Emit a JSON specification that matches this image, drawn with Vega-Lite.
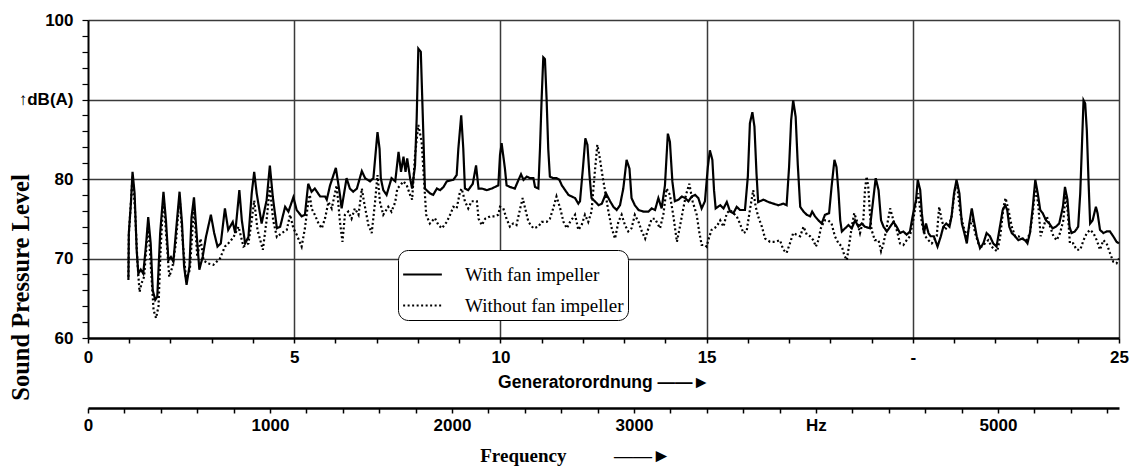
{
"$schema": "https://vega.github.io/schema/vega-lite/v6.json",
"width": 1031, "height": 318,
"autosize": {"type": "none"},
"padding": {"left": 88, "top": 20, "right": 14, "bottom": 128},
"background": "white",
"config": {"view": {"stroke": null}},
"datasets": {
"spec": [
{"g":0.98,"db":67.3,"s":"With fan impeller"},{"g":0.99,"db":73.2,"s":"With fan impeller"},{"g":1.04,"db":76.9,"s":"With fan impeller"},{"g":1.08,"db":80.9,"s":"With fan impeller"},{"g":1.13,"db":78.2,"s":"With fan impeller"},{"g":1.18,"db":71.1,"s":"With fan impeller"},{"g":1.22,"db":68.1,"s":"With fan impeller"},{"g":1.28,"db":68.6,"s":"With fan impeller"},{"g":1.34,"db":68.1,"s":"With fan impeller"},{"g":1.41,"db":71.9,"s":"With fan impeller"},{"g":1.46,"db":75.2,"s":"With fan impeller"},{"g":1.52,"db":71.9,"s":"With fan impeller"},{"g":1.57,"db":66.0,"s":"With fan impeller"},{"g":1.63,"db":64.8,"s":"With fan impeller"},{"g":1.68,"db":65.2,"s":"With fan impeller"},{"g":1.75,"db":73.2,"s":"With fan impeller"},{"g":1.83,"db":78.4,"s":"With fan impeller"},{"g":1.89,"db":74.8,"s":"With fan impeller"},{"g":1.95,"db":69.8,"s":"With fan impeller"},{"g":2.01,"db":70.2,"s":"With fan impeller"},{"g":2.07,"db":69.6,"s":"With fan impeller"},{"g":2.13,"db":73.2,"s":"With fan impeller"},{"g":2.22,"db":78.4,"s":"With fan impeller"},{"g":2.28,"db":74.4,"s":"With fan impeller"},{"g":2.33,"db":69.0,"s":"With fan impeller"},{"g":2.39,"db":66.7,"s":"With fan impeller"},{"g":2.46,"db":69.0,"s":"With fan impeller"},{"g":2.51,"db":75.2,"s":"With fan impeller"},{"g":2.57,"db":77.7,"s":"With fan impeller"},{"g":2.64,"db":72.7,"s":"With fan impeller"},{"g":2.70,"db":68.6,"s":"With fan impeller"},{"g":2.78,"db":70.2,"s":"With fan impeller"},{"g":2.86,"db":72.7,"s":"With fan impeller"},{"g":2.98,"db":75.5,"s":"With fan impeller"},{"g":3.06,"db":73.2,"s":"With fan impeller"},{"g":3.14,"db":71.5,"s":"With fan impeller"},{"g":3.22,"db":71.9,"s":"With fan impeller"},{"g":3.32,"db":76.3,"s":"With fan impeller"},{"g":3.40,"db":73.6,"s":"With fan impeller"},{"g":3.51,"db":74.6,"s":"With fan impeller"},{"g":3.57,"db":73.2,"s":"With fan impeller"},{"g":3.67,"db":78.6,"s":"With fan impeller"},{"g":3.73,"db":74.8,"s":"With fan impeller"},{"g":3.81,"db":71.9,"s":"With fan impeller"},{"g":3.89,"db":72.7,"s":"With fan impeller"},{"g":3.97,"db":78.2,"s":"With fan impeller"},{"g":4.03,"db":80.9,"s":"With fan impeller"},{"g":4.09,"db":78.2,"s":"With fan impeller"},{"g":4.21,"db":74.4,"s":"With fan impeller"},{"g":4.33,"db":77.3,"s":"With fan impeller"},{"g":4.41,"db":81.7,"s":"With fan impeller"},{"g":4.48,"db":77.8,"s":"With fan impeller"},{"g":4.58,"db":73.8,"s":"With fan impeller"},{"g":4.66,"db":74.0,"s":"With fan impeller"},{"g":4.78,"db":76.5,"s":"With fan impeller"},{"g":4.86,"db":75.9,"s":"With fan impeller"},{"g":4.98,"db":77.7,"s":"With fan impeller"},{"g":5.06,"db":76.1,"s":"With fan impeller"},{"g":5.18,"db":75.3,"s":"With fan impeller"},{"g":5.26,"db":75.5,"s":"With fan impeller"},{"g":5.34,"db":79.4,"s":"With fan impeller"},{"g":5.42,"db":78.4,"s":"With fan impeller"},{"g":5.50,"db":78.8,"s":"With fan impeller"},{"g":5.63,"db":77.8,"s":"With fan impeller"},{"g":5.75,"db":77.8,"s":"With fan impeller"},{"g":5.79,"db":77.4,"s":"With fan impeller"},{"g":5.87,"db":79.2,"s":"With fan impeller"},{"g":6.01,"db":81.4,"s":"With fan impeller"},{"g":6.11,"db":78.0,"s":"With fan impeller"},{"g":6.15,"db":76.3,"s":"With fan impeller"},{"g":6.27,"db":80.1,"s":"With fan impeller"},{"g":6.35,"db":78.8,"s":"With fan impeller"},{"g":6.43,"db":78.4,"s":"With fan impeller"},{"g":6.52,"db":78.8,"s":"With fan impeller"},{"g":6.64,"db":81.0,"s":"With fan impeller"},{"g":6.72,"db":80.1,"s":"With fan impeller"},{"g":6.84,"db":79.7,"s":"With fan impeller"},{"g":6.92,"db":80.1,"s":"With fan impeller"},{"g":6.97,"db":83.0,"s":"With fan impeller"},{"g":7.02,"db":85.9,"s":"With fan impeller"},{"g":7.07,"db":83.8,"s":"With fan impeller"},{"g":7.10,"db":80.1,"s":"With fan impeller"},{"g":7.16,"db":78.6,"s":"With fan impeller"},{"g":7.24,"db":78.0,"s":"With fan impeller"},{"g":7.36,"db":80.1,"s":"With fan impeller"},{"g":7.45,"db":79.7,"s":"With fan impeller"},{"g":7.53,"db":83.4,"s":"With fan impeller"},{"g":7.59,"db":80.9,"s":"With fan impeller"},{"g":7.65,"db":82.8,"s":"With fan impeller"},{"g":7.70,"db":80.9,"s":"With fan impeller"},{"g":7.74,"db":82.6,"s":"With fan impeller"},{"g":7.81,"db":80.1,"s":"With fan impeller"},{"g":7.86,"db":78.8,"s":"With fan impeller"},{"g":7.93,"db":81.7,"s":"With fan impeller"},{"g":7.97,"db":87.6,"s":"With fan impeller"},{"g":8.01,"db":96.4,"s":"With fan impeller"},{"g":8.07,"db":96.0,"s":"With fan impeller"},{"g":8.12,"db":87.6,"s":"With fan impeller"},{"g":8.17,"db":78.8,"s":"With fan impeller"},{"g":8.29,"db":78.2,"s":"With fan impeller"},{"g":8.37,"db":78.0,"s":"With fan impeller"},{"g":8.46,"db":78.8,"s":"With fan impeller"},{"g":8.54,"db":78.6,"s":"With fan impeller"},{"g":8.62,"db":79.0,"s":"With fan impeller"},{"g":8.70,"db":79.7,"s":"With fan impeller"},{"g":8.86,"db":79.9,"s":"With fan impeller"},{"g":8.94,"db":80.5,"s":"With fan impeller"},{"g":8.98,"db":83.8,"s":"With fan impeller"},{"g":9.05,"db":88.0,"s":"With fan impeller"},{"g":9.10,"db":83.8,"s":"With fan impeller"},{"g":9.14,"db":78.8,"s":"With fan impeller"},{"g":9.22,"db":78.6,"s":"With fan impeller"},{"g":9.33,"db":79.4,"s":"With fan impeller"},{"g":9.41,"db":81.7,"s":"With fan impeller"},{"g":9.47,"db":78.8,"s":"With fan impeller"},{"g":9.55,"db":78.8,"s":"With fan impeller"},{"g":9.67,"db":78.6,"s":"With fan impeller"},{"g":9.79,"db":78.8,"s":"With fan impeller"},{"g":9.95,"db":79.2,"s":"With fan impeller"},{"g":9.99,"db":83.0,"s":"With fan impeller"},{"g":10.03,"db":84.5,"s":"With fan impeller"},{"g":10.11,"db":81.3,"s":"With fan impeller"},{"g":10.15,"db":79.2,"s":"With fan impeller"},{"g":10.23,"db":79.0,"s":"With fan impeller"},{"g":10.35,"db":78.8,"s":"With fan impeller"},{"g":10.44,"db":79.9,"s":"With fan impeller"},{"g":10.50,"db":80.6,"s":"With fan impeller"},{"g":10.56,"db":79.9,"s":"With fan impeller"},{"g":10.64,"db":80.3,"s":"With fan impeller"},{"g":10.72,"db":80.1,"s":"With fan impeller"},{"g":10.80,"db":80.1,"s":"With fan impeller"},{"g":10.84,"db":79.0,"s":"With fan impeller"},{"g":10.92,"db":78.8,"s":"With fan impeller"},{"g":10.96,"db":83.8,"s":"With fan impeller"},{"g":11.00,"db":90.1,"s":"With fan impeller"},{"g":11.04,"db":95.3,"s":"With fan impeller"},{"g":11.08,"db":95.1,"s":"With fan impeller"},{"g":11.12,"db":90.1,"s":"With fan impeller"},{"g":11.16,"db":83.8,"s":"With fan impeller"},{"g":11.20,"db":80.3,"s":"With fan impeller"},{"g":11.28,"db":80.1,"s":"With fan impeller"},{"g":11.36,"db":80.1,"s":"With fan impeller"},{"g":11.43,"db":79.9,"s":"With fan impeller"},{"g":11.49,"db":79.2,"s":"With fan impeller"},{"g":11.57,"db":78.6,"s":"With fan impeller"},{"g":11.65,"db":78.0,"s":"With fan impeller"},{"g":11.73,"db":77.8,"s":"With fan impeller"},{"g":11.81,"db":77.6,"s":"With fan impeller"},{"g":11.89,"db":76.9,"s":"With fan impeller"},{"g":11.93,"db":77.2,"s":"With fan impeller"},{"g":12.00,"db":81.3,"s":"With fan impeller"},{"g":12.06,"db":85.1,"s":"With fan impeller"},{"g":12.11,"db":84.3,"s":"With fan impeller"},{"g":12.16,"db":80.5,"s":"With fan impeller"},{"g":12.21,"db":77.6,"s":"With fan impeller"},{"g":12.29,"db":77.2,"s":"With fan impeller"},{"g":12.38,"db":76.7,"s":"With fan impeller"},{"g":12.46,"db":76.9,"s":"With fan impeller"},{"g":12.56,"db":78.2,"s":"With fan impeller"},{"g":12.66,"db":77.2,"s":"With fan impeller"},{"g":12.74,"db":76.5,"s":"With fan impeller"},{"g":12.82,"db":76.1,"s":"With fan impeller"},{"g":12.90,"db":76.7,"s":"With fan impeller"},{"g":12.98,"db":78.8,"s":"With fan impeller"},{"g":13.06,"db":82.4,"s":"With fan impeller"},{"g":13.13,"db":81.3,"s":"With fan impeller"},{"g":13.18,"db":77.6,"s":"With fan impeller"},{"g":13.26,"db":76.7,"s":"With fan impeller"},{"g":13.35,"db":76.1,"s":"With fan impeller"},{"g":13.47,"db":75.9,"s":"With fan impeller"},{"g":13.59,"db":75.9,"s":"With fan impeller"},{"g":13.67,"db":76.3,"s":"With fan impeller"},{"g":13.75,"db":76.1,"s":"With fan impeller"},{"g":13.83,"db":77.6,"s":"With fan impeller"},{"g":13.91,"db":76.3,"s":"With fan impeller"},{"g":13.99,"db":79.2,"s":"With fan impeller"},{"g":14.06,"db":85.7,"s":"With fan impeller"},{"g":14.11,"db":84.7,"s":"With fan impeller"},{"g":14.17,"db":79.7,"s":"With fan impeller"},{"g":14.23,"db":77.2,"s":"With fan impeller"},{"g":14.32,"db":77.4,"s":"With fan impeller"},{"g":14.40,"db":77.8,"s":"With fan impeller"},{"g":14.48,"db":77.6,"s":"With fan impeller"},{"g":14.56,"db":77.2,"s":"With fan impeller"},{"g":14.64,"db":77.8,"s":"With fan impeller"},{"g":14.72,"db":78.0,"s":"With fan impeller"},{"g":14.80,"db":77.6,"s":"With fan impeller"},{"g":14.88,"db":76.3,"s":"With fan impeller"},{"g":14.96,"db":77.2,"s":"With fan impeller"},{"g":15.03,"db":81.5,"s":"With fan impeller"},{"g":15.08,"db":83.6,"s":"With fan impeller"},{"g":15.14,"db":82.4,"s":"With fan impeller"},{"g":15.18,"db":78.6,"s":"With fan impeller"},{"g":15.22,"db":76.3,"s":"With fan impeller"},{"g":15.33,"db":76.7,"s":"With fan impeller"},{"g":15.41,"db":76.3,"s":"With fan impeller"},{"g":15.49,"db":77.1,"s":"With fan impeller"},{"g":15.57,"db":75.9,"s":"With fan impeller"},{"g":15.65,"db":75.7,"s":"With fan impeller"},{"g":15.73,"db":76.5,"s":"With fan impeller"},{"g":15.81,"db":76.1,"s":"With fan impeller"},{"g":15.93,"db":76.1,"s":"With fan impeller"},{"g":16.00,"db":80.3,"s":"With fan impeller"},{"g":16.05,"db":87.0,"s":"With fan impeller"},{"g":16.11,"db":88.4,"s":"With fan impeller"},{"g":16.16,"db":86.6,"s":"With fan impeller"},{"g":16.21,"db":80.7,"s":"With fan impeller"},{"g":16.25,"db":77.1,"s":"With fan impeller"},{"g":16.38,"db":77.4,"s":"With fan impeller"},{"g":16.50,"db":77.1,"s":"With fan impeller"},{"g":16.62,"db":76.9,"s":"With fan impeller"},{"g":16.74,"db":76.7,"s":"With fan impeller"},{"g":16.86,"db":76.9,"s":"With fan impeller"},{"g":16.94,"db":76.7,"s":"With fan impeller"},{"g":17.00,"db":81.5,"s":"With fan impeller"},{"g":17.05,"db":87.4,"s":"With fan impeller"},{"g":17.10,"db":89.9,"s":"With fan impeller"},{"g":17.16,"db":87.8,"s":"With fan impeller"},{"g":17.21,"db":81.9,"s":"With fan impeller"},{"g":17.27,"db":76.5,"s":"With fan impeller"},{"g":17.35,"db":75.9,"s":"With fan impeller"},{"g":17.43,"db":75.5,"s":"With fan impeller"},{"g":17.51,"db":75.3,"s":"With fan impeller"},{"g":17.56,"db":75.9,"s":"With fan impeller"},{"g":17.63,"db":75.3,"s":"With fan impeller"},{"g":17.71,"db":74.8,"s":"With fan impeller"},{"g":17.79,"db":74.4,"s":"With fan impeller"},{"g":17.87,"db":75.5,"s":"With fan impeller"},{"g":17.97,"db":75.7,"s":"With fan impeller"},{"g":18.03,"db":79.0,"s":"With fan impeller"},{"g":18.10,"db":82.4,"s":"With fan impeller"},{"g":18.15,"db":81.5,"s":"With fan impeller"},{"g":18.20,"db":78.2,"s":"With fan impeller"},{"g":18.24,"db":74.8,"s":"With fan impeller"},{"g":18.28,"db":73.4,"s":"With fan impeller"},{"g":18.36,"db":73.8,"s":"With fan impeller"},{"g":18.44,"db":74.2,"s":"With fan impeller"},{"g":18.52,"db":73.8,"s":"With fan impeller"},{"g":18.60,"db":74.8,"s":"With fan impeller"},{"g":18.68,"db":74.0,"s":"With fan impeller"},{"g":18.76,"db":74.4,"s":"With fan impeller"},{"g":18.84,"db":74.0,"s":"With fan impeller"},{"g":18.96,"db":73.8,"s":"With fan impeller"},{"g":19.04,"db":77.4,"s":"With fan impeller"},{"g":19.10,"db":80.1,"s":"With fan impeller"},{"g":19.17,"db":78.6,"s":"With fan impeller"},{"g":19.23,"db":74.8,"s":"With fan impeller"},{"g":19.29,"db":74.0,"s":"With fan impeller"},{"g":19.37,"db":73.4,"s":"With fan impeller"},{"g":19.45,"db":74.0,"s":"With fan impeller"},{"g":19.53,"db":74.6,"s":"With fan impeller"},{"g":19.61,"db":74.0,"s":"With fan impeller"},{"g":19.69,"db":73.2,"s":"With fan impeller"},{"g":19.77,"db":73.4,"s":"With fan impeller"},{"g":19.85,"db":73.0,"s":"With fan impeller"},{"g":19.93,"db":73.4,"s":"With fan impeller"},{"g":20.01,"db":75.7,"s":"With fan impeller"},{"g":20.08,"db":77.4,"s":"With fan impeller"},{"g":20.12,"db":79.9,"s":"With fan impeller"},{"g":20.18,"db":78.6,"s":"With fan impeller"},{"g":20.22,"db":75.7,"s":"With fan impeller"},{"g":20.27,"db":73.2,"s":"With fan impeller"},{"g":20.32,"db":74.4,"s":"With fan impeller"},{"g":20.38,"db":73.2,"s":"With fan impeller"},{"g":20.43,"db":72.8,"s":"With fan impeller"},{"g":20.51,"db":72.8,"s":"With fan impeller"},{"g":20.60,"db":71.5,"s":"With fan impeller"},{"g":20.68,"db":72.8,"s":"With fan impeller"},{"g":20.74,"db":74.0,"s":"With fan impeller"},{"g":20.81,"db":74.4,"s":"With fan impeller"},{"g":20.89,"db":74.0,"s":"With fan impeller"},{"g":20.94,"db":75.3,"s":"With fan impeller"},{"g":21.00,"db":78.2,"s":"With fan impeller"},{"g":21.06,"db":79.9,"s":"With fan impeller"},{"g":21.13,"db":78.2,"s":"With fan impeller"},{"g":21.19,"db":74.4,"s":"With fan impeller"},{"g":21.25,"db":73.2,"s":"With fan impeller"},{"g":21.31,"db":71.9,"s":"With fan impeller"},{"g":21.37,"db":74.4,"s":"With fan impeller"},{"g":21.43,"db":76.3,"s":"With fan impeller"},{"g":21.48,"db":74.8,"s":"With fan impeller"},{"g":21.55,"db":72.8,"s":"With fan impeller"},{"g":21.63,"db":71.3,"s":"With fan impeller"},{"g":21.71,"db":71.9,"s":"With fan impeller"},{"g":21.79,"db":73.2,"s":"With fan impeller"},{"g":21.87,"db":72.8,"s":"With fan impeller"},{"g":21.95,"db":71.9,"s":"With fan impeller"},{"g":22.03,"db":71.5,"s":"With fan impeller"},{"g":22.10,"db":73.6,"s":"With fan impeller"},{"g":22.18,"db":76.1,"s":"With fan impeller"},{"g":22.24,"db":76.7,"s":"With fan impeller"},{"g":22.29,"db":76.1,"s":"With fan impeller"},{"g":22.34,"db":74.0,"s":"With fan impeller"},{"g":22.40,"db":73.2,"s":"With fan impeller"},{"g":22.48,"db":72.8,"s":"With fan impeller"},{"g":22.56,"db":72.3,"s":"With fan impeller"},{"g":22.64,"db":72.5,"s":"With fan impeller"},{"g":22.72,"db":72.3,"s":"With fan impeller"},{"g":22.78,"db":71.9,"s":"With fan impeller"},{"g":22.84,"db":73.2,"s":"With fan impeller"},{"g":22.91,"db":76.5,"s":"With fan impeller"},{"g":22.97,"db":79.9,"s":"With fan impeller"},{"g":23.03,"db":78.2,"s":"With fan impeller"},{"g":23.09,"db":76.1,"s":"With fan impeller"},{"g":23.15,"db":75.7,"s":"With fan impeller"},{"g":23.23,"db":74.8,"s":"With fan impeller"},{"g":23.31,"db":74.4,"s":"With fan impeller"},{"g":23.39,"db":73.8,"s":"With fan impeller"},{"g":23.47,"db":74.0,"s":"With fan impeller"},{"g":23.55,"db":74.4,"s":"With fan impeller"},{"g":23.64,"db":76.5,"s":"With fan impeller"},{"g":23.69,"db":79.0,"s":"With fan impeller"},{"g":23.75,"db":77.4,"s":"With fan impeller"},{"g":23.80,"db":74.0,"s":"With fan impeller"},{"g":23.85,"db":73.2,"s":"With fan impeller"},{"g":23.93,"db":73.4,"s":"With fan impeller"},{"g":24.01,"db":74.0,"s":"With fan impeller"},{"g":24.06,"db":78.2,"s":"With fan impeller"},{"g":24.10,"db":84.0,"s":"With fan impeller"},{"g":24.14,"db":89.9,"s":"With fan impeller"},{"g":24.18,"db":89.5,"s":"With fan impeller"},{"g":24.22,"db":86.1,"s":"With fan impeller"},{"g":24.26,"db":79.9,"s":"With fan impeller"},{"g":24.30,"db":74.4,"s":"With fan impeller"},{"g":24.36,"db":74.8,"s":"With fan impeller"},{"g":24.44,"db":76.5,"s":"With fan impeller"},{"g":24.48,"db":75.7,"s":"With fan impeller"},{"g":24.54,"db":73.6,"s":"With fan impeller"},{"g":24.62,"db":73.2,"s":"With fan impeller"},{"g":24.70,"db":73.4,"s":"With fan impeller"},{"g":24.78,"db":73.4,"s":"With fan impeller"},{"g":24.86,"db":72.8,"s":"With fan impeller"},{"g":24.94,"db":72.1,"s":"With fan impeller"},{"g":25.00,"db":71.9,"s":"With fan impeller"},
{"g":0.98,"db":67.7,"s":"Without fan impeller"},{"g":0.99,"db":73.0,"s":"Without fan impeller"},{"g":1.08,"db":80.3,"s":"Without fan impeller"},{"g":1.14,"db":76.1,"s":"Without fan impeller"},{"g":1.20,"db":69.4,"s":"Without fan impeller"},{"g":1.25,"db":65.8,"s":"Without fan impeller"},{"g":1.30,"db":66.9,"s":"Without fan impeller"},{"g":1.36,"db":67.7,"s":"Without fan impeller"},{"g":1.46,"db":74.4,"s":"Without fan impeller"},{"g":1.54,"db":67.7,"s":"Without fan impeller"},{"g":1.59,"db":63.5,"s":"Without fan impeller"},{"g":1.65,"db":62.5,"s":"Without fan impeller"},{"g":1.71,"db":64.0,"s":"Without fan impeller"},{"g":1.76,"db":71.1,"s":"Without fan impeller"},{"g":1.83,"db":77.8,"s":"Without fan impeller"},{"g":1.91,"db":71.9,"s":"Without fan impeller"},{"g":1.97,"db":67.7,"s":"Without fan impeller"},{"g":2.05,"db":69.0,"s":"Without fan impeller"},{"g":2.13,"db":71.9,"s":"Without fan impeller"},{"g":2.22,"db":77.8,"s":"Without fan impeller"},{"g":2.30,"db":71.9,"s":"Without fan impeller"},{"g":2.38,"db":67.3,"s":"Without fan impeller"},{"g":2.47,"db":68.6,"s":"Without fan impeller"},{"g":2.57,"db":76.5,"s":"Without fan impeller"},{"g":2.65,"db":70.2,"s":"Without fan impeller"},{"g":2.73,"db":72.5,"s":"Without fan impeller"},{"g":2.80,"db":69.8,"s":"Without fan impeller"},{"g":2.89,"db":69.4,"s":"Without fan impeller"},{"g":3.04,"db":69.2,"s":"Without fan impeller"},{"g":3.20,"db":70.0,"s":"Without fan impeller"},{"g":3.32,"db":71.5,"s":"Without fan impeller"},{"g":3.44,"db":72.1,"s":"Without fan impeller"},{"g":3.53,"db":72.7,"s":"Without fan impeller"},{"g":3.65,"db":74.0,"s":"Without fan impeller"},{"g":3.77,"db":71.5,"s":"Without fan impeller"},{"g":3.89,"db":71.9,"s":"Without fan impeller"},{"g":3.97,"db":74.8,"s":"Without fan impeller"},{"g":4.03,"db":77.3,"s":"Without fan impeller"},{"g":4.11,"db":73.6,"s":"Without fan impeller"},{"g":4.24,"db":71.1,"s":"Without fan impeller"},{"g":4.33,"db":74.8,"s":"Without fan impeller"},{"g":4.41,"db":79.0,"s":"Without fan impeller"},{"g":4.49,"db":74.8,"s":"Without fan impeller"},{"g":4.58,"db":72.7,"s":"Without fan impeller"},{"g":4.70,"db":73.2,"s":"Without fan impeller"},{"g":4.82,"db":73.6,"s":"Without fan impeller"},{"g":4.90,"db":75.5,"s":"Without fan impeller"},{"g":4.98,"db":73.8,"s":"Without fan impeller"},{"g":5.06,"db":73.0,"s":"Without fan impeller"},{"g":5.18,"db":71.5,"s":"Without fan impeller"},{"g":5.26,"db":73.8,"s":"Without fan impeller"},{"g":5.34,"db":77.1,"s":"Without fan impeller"},{"g":5.38,"db":78.0,"s":"Without fan impeller"},{"g":5.42,"db":76.3,"s":"Without fan impeller"},{"g":5.50,"db":75.5,"s":"Without fan impeller"},{"g":5.59,"db":74.4,"s":"Without fan impeller"},{"g":5.67,"db":73.8,"s":"Without fan impeller"},{"g":5.75,"db":75.1,"s":"Without fan impeller"},{"g":5.83,"db":77.1,"s":"Without fan impeller"},{"g":5.91,"db":76.3,"s":"Without fan impeller"},{"g":6.03,"db":79.2,"s":"Without fan impeller"},{"g":6.11,"db":74.6,"s":"Without fan impeller"},{"g":6.17,"db":72.1,"s":"Without fan impeller"},{"g":6.23,"db":75.5,"s":"Without fan impeller"},{"g":6.31,"db":75.9,"s":"Without fan impeller"},{"g":6.39,"db":75.0,"s":"Without fan impeller"},{"g":6.47,"db":76.3,"s":"Without fan impeller"},{"g":6.56,"db":75.5,"s":"Without fan impeller"},{"g":6.64,"db":78.8,"s":"Without fan impeller"},{"g":6.69,"db":77.2,"s":"Without fan impeller"},{"g":6.80,"db":74.2,"s":"Without fan impeller"},{"g":6.88,"db":73.2,"s":"Without fan impeller"},{"g":6.96,"db":77.1,"s":"Without fan impeller"},{"g":7.02,"db":80.5,"s":"Without fan impeller"},{"g":7.08,"db":77.1,"s":"Without fan impeller"},{"g":7.16,"db":75.5,"s":"Without fan impeller"},{"g":7.28,"db":76.5,"s":"Without fan impeller"},{"g":7.36,"db":75.9,"s":"Without fan impeller"},{"g":7.45,"db":77.1,"s":"Without fan impeller"},{"g":7.50,"db":78.8,"s":"Without fan impeller"},{"g":7.57,"db":79.2,"s":"Without fan impeller"},{"g":7.65,"db":79.7,"s":"Without fan impeller"},{"g":7.73,"db":79.2,"s":"Without fan impeller"},{"g":7.81,"db":78.0,"s":"Without fan impeller"},{"g":7.86,"db":77.4,"s":"Without fan impeller"},{"g":7.93,"db":83.0,"s":"Without fan impeller"},{"g":8.01,"db":86.8,"s":"Without fan impeller"},{"g":8.09,"db":84.7,"s":"Without fan impeller"},{"g":8.15,"db":79.7,"s":"Without fan impeller"},{"g":8.20,"db":75.5,"s":"Without fan impeller"},{"g":8.29,"db":74.4,"s":"Without fan impeller"},{"g":8.41,"db":75.1,"s":"Without fan impeller"},{"g":8.50,"db":74.2,"s":"Without fan impeller"},{"g":8.58,"db":73.8,"s":"Without fan impeller"},{"g":8.70,"db":74.6,"s":"Without fan impeller"},{"g":8.78,"db":75.5,"s":"Without fan impeller"},{"g":8.86,"db":76.5,"s":"Without fan impeller"},{"g":8.94,"db":76.3,"s":"Without fan impeller"},{"g":9.02,"db":78.4,"s":"Without fan impeller"},{"g":9.06,"db":78.8,"s":"Without fan impeller"},{"g":9.14,"db":77.2,"s":"Without fan impeller"},{"g":9.22,"db":76.3,"s":"Without fan impeller"},{"g":9.30,"db":77.2,"s":"Without fan impeller"},{"g":9.43,"db":77.2,"s":"Without fan impeller"},{"g":9.47,"db":75.0,"s":"Without fan impeller"},{"g":9.55,"db":74.2,"s":"Without fan impeller"},{"g":9.63,"db":75.0,"s":"Without fan impeller"},{"g":9.75,"db":75.3,"s":"Without fan impeller"},{"g":9.87,"db":75.3,"s":"Without fan impeller"},{"g":9.95,"db":75.5,"s":"Without fan impeller"},{"g":9.99,"db":76.5,"s":"Without fan impeller"},{"g":10.07,"db":76.3,"s":"Without fan impeller"},{"g":10.15,"db":75.0,"s":"Without fan impeller"},{"g":10.23,"db":74.0,"s":"Without fan impeller"},{"g":10.31,"db":74.4,"s":"Without fan impeller"},{"g":10.39,"db":74.2,"s":"Without fan impeller"},{"g":10.48,"db":76.3,"s":"Without fan impeller"},{"g":10.54,"db":77.6,"s":"Without fan impeller"},{"g":10.60,"db":76.3,"s":"Without fan impeller"},{"g":10.68,"db":74.6,"s":"Without fan impeller"},{"g":10.80,"db":73.8,"s":"Without fan impeller"},{"g":10.92,"db":74.0,"s":"Without fan impeller"},{"g":11.00,"db":74.6,"s":"Without fan impeller"},{"g":11.12,"db":74.6,"s":"Without fan impeller"},{"g":11.20,"db":75.0,"s":"Without fan impeller"},{"g":11.28,"db":76.3,"s":"Without fan impeller"},{"g":11.36,"db":77.8,"s":"Without fan impeller"},{"g":11.45,"db":76.3,"s":"Without fan impeller"},{"g":11.53,"db":74.6,"s":"Without fan impeller"},{"g":11.61,"db":73.8,"s":"Without fan impeller"},{"g":11.69,"db":74.6,"s":"Without fan impeller"},{"g":11.81,"db":75.5,"s":"Without fan impeller"},{"g":11.89,"db":73.6,"s":"Without fan impeller"},{"g":11.97,"db":74.2,"s":"Without fan impeller"},{"g":12.05,"db":75.5,"s":"Without fan impeller"},{"g":12.13,"db":74.6,"s":"Without fan impeller"},{"g":12.21,"db":75.9,"s":"Without fan impeller"},{"g":12.29,"db":80.9,"s":"Without fan impeller"},{"g":12.35,"db":84.3,"s":"Without fan impeller"},{"g":12.40,"db":83.0,"s":"Without fan impeller"},{"g":12.46,"db":80.9,"s":"Without fan impeller"},{"g":12.54,"db":78.4,"s":"Without fan impeller"},{"g":12.62,"db":75.9,"s":"Without fan impeller"},{"g":12.70,"db":73.8,"s":"Without fan impeller"},{"g":12.78,"db":72.5,"s":"Without fan impeller"},{"g":12.86,"db":74.6,"s":"Without fan impeller"},{"g":12.94,"db":75.5,"s":"Without fan impeller"},{"g":13.02,"db":74.2,"s":"Without fan impeller"},{"g":13.10,"db":73.4,"s":"Without fan impeller"},{"g":13.18,"db":73.8,"s":"Without fan impeller"},{"g":13.26,"db":75.5,"s":"Without fan impeller"},{"g":13.35,"db":74.6,"s":"Without fan impeller"},{"g":13.43,"db":73.4,"s":"Without fan impeller"},{"g":13.51,"db":72.5,"s":"Without fan impeller"},{"g":13.59,"db":73.8,"s":"Without fan impeller"},{"g":13.67,"db":75.0,"s":"Without fan impeller"},{"g":13.75,"db":75.0,"s":"Without fan impeller"},{"g":13.87,"db":73.8,"s":"Without fan impeller"},{"g":13.95,"db":75.5,"s":"Without fan impeller"},{"g":14.03,"db":78.8,"s":"Without fan impeller"},{"g":14.11,"db":78.0,"s":"Without fan impeller"},{"g":14.19,"db":75.5,"s":"Without fan impeller"},{"g":14.28,"db":72.1,"s":"Without fan impeller"},{"g":14.36,"db":74.2,"s":"Without fan impeller"},{"g":14.42,"db":75.9,"s":"Without fan impeller"},{"g":14.50,"db":78.0,"s":"Without fan impeller"},{"g":14.58,"db":79.4,"s":"Without fan impeller"},{"g":14.66,"db":77.2,"s":"Without fan impeller"},{"g":14.76,"db":75.5,"s":"Without fan impeller"},{"g":14.82,"db":73.4,"s":"Without fan impeller"},{"g":14.88,"db":71.7,"s":"Without fan impeller"},{"g":14.96,"db":71.7,"s":"Without fan impeller"},{"g":15.00,"db":71.5,"s":"Without fan impeller"},{"g":15.04,"db":72.3,"s":"Without fan impeller"},{"g":15.12,"db":73.6,"s":"Without fan impeller"},{"g":15.24,"db":74.0,"s":"Without fan impeller"},{"g":15.33,"db":74.8,"s":"Without fan impeller"},{"g":15.41,"db":74.0,"s":"Without fan impeller"},{"g":15.49,"db":75.7,"s":"Without fan impeller"},{"g":15.57,"db":76.1,"s":"Without fan impeller"},{"g":15.65,"db":75.7,"s":"Without fan impeller"},{"g":15.73,"db":75.3,"s":"Without fan impeller"},{"g":15.81,"db":74.4,"s":"Without fan impeller"},{"g":15.89,"db":73.2,"s":"Without fan impeller"},{"g":15.97,"db":73.4,"s":"Without fan impeller"},{"g":16.05,"db":76.1,"s":"Without fan impeller"},{"g":16.13,"db":78.6,"s":"Without fan impeller"},{"g":16.19,"db":76.5,"s":"Without fan impeller"},{"g":16.25,"db":75.3,"s":"Without fan impeller"},{"g":16.34,"db":74.0,"s":"Without fan impeller"},{"g":16.42,"db":72.5,"s":"Without fan impeller"},{"g":16.54,"db":72.1,"s":"Without fan impeller"},{"g":16.66,"db":72.1,"s":"Without fan impeller"},{"g":16.78,"db":72.3,"s":"Without fan impeller"},{"g":16.86,"db":71.1,"s":"Without fan impeller"},{"g":16.94,"db":70.7,"s":"Without fan impeller"},{"g":17.02,"db":71.9,"s":"Without fan impeller"},{"g":17.10,"db":73.2,"s":"Without fan impeller"},{"g":17.18,"db":73.0,"s":"Without fan impeller"},{"g":17.27,"db":72.8,"s":"Without fan impeller"},{"g":17.35,"db":74.0,"s":"Without fan impeller"},{"g":17.43,"db":73.0,"s":"Without fan impeller"},{"g":17.51,"db":72.8,"s":"Without fan impeller"},{"g":17.59,"db":72.3,"s":"Without fan impeller"},{"g":17.65,"db":71.5,"s":"Without fan impeller"},{"g":17.71,"db":72.3,"s":"Without fan impeller"},{"g":17.77,"db":73.8,"s":"Without fan impeller"},{"g":17.86,"db":74.8,"s":"Without fan impeller"},{"g":17.95,"db":74.8,"s":"Without fan impeller"},{"g":18.03,"db":74.4,"s":"Without fan impeller"},{"g":18.11,"db":72.8,"s":"Without fan impeller"},{"g":18.20,"db":71.9,"s":"Without fan impeller"},{"g":18.28,"db":71.5,"s":"Without fan impeller"},{"g":18.34,"db":70.4,"s":"Without fan impeller"},{"g":18.40,"db":69.8,"s":"Without fan impeller"},{"g":18.45,"db":71.5,"s":"Without fan impeller"},{"g":18.52,"db":74.0,"s":"Without fan impeller"},{"g":18.58,"db":75.7,"s":"Without fan impeller"},{"g":18.64,"db":74.8,"s":"Without fan impeller"},{"g":18.72,"db":73.2,"s":"Without fan impeller"},{"g":18.80,"db":74.8,"s":"Without fan impeller"},{"g":18.84,"db":78.6,"s":"Without fan impeller"},{"g":18.88,"db":80.3,"s":"Without fan impeller"},{"g":18.92,"db":79.0,"s":"Without fan impeller"},{"g":18.96,"db":75.7,"s":"Without fan impeller"},{"g":19.00,"db":73.6,"s":"Without fan impeller"},{"g":19.08,"db":72.3,"s":"Without fan impeller"},{"g":19.17,"db":72.3,"s":"Without fan impeller"},{"g":19.23,"db":70.9,"s":"Without fan impeller"},{"g":19.29,"db":71.9,"s":"Without fan impeller"},{"g":19.37,"db":74.0,"s":"Without fan impeller"},{"g":19.45,"db":76.3,"s":"Without fan impeller"},{"g":19.53,"db":74.8,"s":"Without fan impeller"},{"g":19.61,"db":73.6,"s":"Without fan impeller"},{"g":19.69,"db":71.9,"s":"Without fan impeller"},{"g":19.77,"db":71.7,"s":"Without fan impeller"},{"g":19.85,"db":72.3,"s":"Without fan impeller"},{"g":19.93,"db":72.8,"s":"Without fan impeller"},{"g":20.01,"db":74.8,"s":"Without fan impeller"},{"g":20.09,"db":77.4,"s":"Without fan impeller"},{"g":20.13,"db":78.2,"s":"Without fan impeller"},{"g":20.22,"db":74.4,"s":"Without fan impeller"},{"g":20.30,"db":72.8,"s":"Without fan impeller"},{"g":20.38,"db":72.3,"s":"Without fan impeller"},{"g":20.46,"db":71.9,"s":"Without fan impeller"},{"g":20.58,"db":72.8,"s":"Without fan impeller"},{"g":20.64,"db":76.5,"s":"Without fan impeller"},{"g":20.70,"db":74.8,"s":"Without fan impeller"},{"g":20.78,"db":73.6,"s":"Without fan impeller"},{"g":20.89,"db":74.4,"s":"Without fan impeller"},{"g":20.94,"db":75.3,"s":"Without fan impeller"},{"g":21.02,"db":78.6,"s":"Without fan impeller"},{"g":21.08,"db":79.0,"s":"Without fan impeller"},{"g":21.15,"db":75.7,"s":"Without fan impeller"},{"g":21.23,"db":74.0,"s":"Without fan impeller"},{"g":21.31,"db":72.8,"s":"Without fan impeller"},{"g":21.37,"db":74.0,"s":"Without fan impeller"},{"g":21.45,"db":74.8,"s":"Without fan impeller"},{"g":21.51,"db":73.2,"s":"Without fan impeller"},{"g":21.59,"db":71.9,"s":"Without fan impeller"},{"g":21.67,"db":71.5,"s":"Without fan impeller"},{"g":21.75,"db":71.9,"s":"Without fan impeller"},{"g":21.83,"db":72.3,"s":"Without fan impeller"},{"g":21.91,"db":71.5,"s":"Without fan impeller"},{"g":21.99,"db":71.1,"s":"Without fan impeller"},{"g":22.05,"db":70.9,"s":"Without fan impeller"},{"g":22.12,"db":72.8,"s":"Without fan impeller"},{"g":22.20,"db":76.5,"s":"Without fan impeller"},{"g":22.25,"db":77.6,"s":"Without fan impeller"},{"g":22.32,"db":76.1,"s":"Without fan impeller"},{"g":22.40,"db":74.0,"s":"Without fan impeller"},{"g":22.48,"db":72.8,"s":"Without fan impeller"},{"g":22.56,"db":72.8,"s":"Without fan impeller"},{"g":22.68,"db":72.5,"s":"Without fan impeller"},{"g":22.76,"db":72.3,"s":"Without fan impeller"},{"g":22.84,"db":73.2,"s":"Without fan impeller"},{"g":22.91,"db":75.7,"s":"Without fan impeller"},{"g":22.97,"db":79.0,"s":"Without fan impeller"},{"g":23.04,"db":76.9,"s":"Without fan impeller"},{"g":23.10,"db":72.8,"s":"Without fan impeller"},{"g":23.17,"db":74.0,"s":"Without fan impeller"},{"g":23.25,"db":75.3,"s":"Without fan impeller"},{"g":23.33,"db":74.0,"s":"Without fan impeller"},{"g":23.41,"db":72.8,"s":"Without fan impeller"},{"g":23.49,"db":72.3,"s":"Without fan impeller"},{"g":23.57,"db":73.2,"s":"Without fan impeller"},{"g":23.65,"db":74.8,"s":"Without fan impeller"},{"g":23.71,"db":78.2,"s":"Without fan impeller"},{"g":23.76,"db":75.7,"s":"Without fan impeller"},{"g":23.81,"db":71.9,"s":"Without fan impeller"},{"g":23.89,"db":71.9,"s":"Without fan impeller"},{"g":23.97,"db":71.1,"s":"Without fan impeller"},{"g":24.06,"db":71.1,"s":"Without fan impeller"},{"g":24.14,"db":72.3,"s":"Without fan impeller"},{"g":24.22,"db":73.2,"s":"Without fan impeller"},{"g":24.30,"db":73.6,"s":"Without fan impeller"},{"g":24.38,"db":73.2,"s":"Without fan impeller"},{"g":24.46,"db":72.3,"s":"Without fan impeller"},{"g":24.54,"db":71.1,"s":"Without fan impeller"},{"g":24.62,"db":72.3,"s":"Without fan impeller"},{"g":24.70,"db":71.9,"s":"Without fan impeller"},{"g":24.78,"db":70.7,"s":"Without fan impeller"},{"g":24.86,"db":69.6,"s":"Without fan impeller"},{"g":24.94,"db":69.4,"s":"Without fan impeller"},{"g":25.00,"db":70.0,"s":"Without fan impeller"}
],
"freq": [{"f": 0}, {"f": 5665}]
},
"layer": [
{
"data": {"name": "spec"},
"mark": {"type": "line", "color": "black", "strokeWidth": 2.2},
"encoding": {
  "x": {"field": "g", "type": "quantitative",
    "scale": {"domain": [0, 25], "nice": false, "zero": false},
    "axis": {
      "orient": "bottom",
      "values": [0,1,2,3,4,5,6,7,8,9,10,11,12,13,14,15,16,17,18,19,20,21,22,23,24,25],
      "labelExpr": "datum.value % 5 === 0 ? (datum.value === 20 ? '-' : datum.label) : ''",
      "labelFont": "Liberation Sans", "labelFontWeight": "bold", "labelFontSize": 17, "labelColor": "black",
      "labelPadding": 6, "labelFlush": false, "labelOverlap": false,
      "tickSize": 5, "tickColor": "black", "tickWidth": 1.5,
      "domainColor": "black", "domainWidth": 2.5,
      "grid": true, "gridColor": "#3a3a3a", "gridWidth": 1.5,
      "gridOpacity": {"condition": {"test": "datum.value % 5 === 0 && datum.value > 0", "value": 1}, "value": 0},
      "title": "Generatorordnung \u2014\u2014\u25ba",
      "titleFont": "Liberation Sans", "titleFontSize": 17.5, "titleFontWeight": "bold", "titleColor": "black",
      "titleY": 44, "titleBaseline": "middle"
    }},
  "y": {"field": "db", "type": "quantitative",
    "scale": {"domain": [60, 100], "nice": false, "zero": false},
    "axis": {
      "values": [60,62,64,66,68,70,72,74,76,78,80,82,84,86,88,90,92,94,96,98,100],
      "labelExpr": "datum.value === 90 ? '\u2191dB(A)' : (datum.value % 10 === 0 ? datum.label : '')",
      "labelFont": "Liberation Sans", "labelFontWeight": "bold", "labelFontSize": 17, "labelColor": "black",
      "labelPadding": 9, "labelOverlap": false, "labelFlush": false,
      "tickSize": 6, "tickColor": "black", "tickWidth": 1.2,
      "domainColor": "black", "domainWidth": 2,
      "grid": true, "gridColor": "#3a3a3a", "gridWidth": 1.5,
      "gridOpacity": {"condition": {"test": "datum.value % 10 === 0 && datum.value > 60", "value": 1}, "value": 0},
      "title": "Sound Pressure Level",
      "titleFont": "Liberation Serif", "titleFontSize": 24.5, "titleFontWeight": "bold", "titleColor": "black",
      "titleAngle": 270, "titleX": -67, "titleY": 267, "titleAlign": "center", "titleBaseline": "middle"
    }},
  "strokeDash": {"field": "s", "type": "nominal",
    "scale": {"domain": ["With fan impeller", "Without fan impeller"], "range": [[1, 0], [2, 2.5]]},
    "legend": {
      "orient": "none", "legendX": 310, "legendY": 230, "title": null,
      "fillColor": "white", "strokeColor": "black", "cornerRadius": 10, "padding": 4,
      "labelFont": "Liberation Serif", "labelFontSize": 19, "labelColor": "black", "labelLimit": 400,
      "symbolType": "stroke", "symbolSize": 1500, "symbolStrokeWidth": 2, "symbolStrokeColor": "black",
      "symbolDash": [6, 4],
      "labelOffset": 22, "rowPadding": -22
    }}
}
},
{
"data": {"name": "freq"},
"mark": {"type": "point", "opacity": 0},
"encoding": {
  "x": {"field": "f", "type": "quantitative",
    "scale": {"domain": [0, 5665], "nice": false, "zero": false},
    "axis": {
      "orient": "bottom", "offset": 70,
      "values": [0,200,400,600,800,1000,1200,1400,1600,1800,2000,2200,2400,2600,2800,3000,3200,3400,3600,3800,4000,4200,4400,4600,4800,5000,5200,5400,5600],
      "format": "d",
      "labelExpr": "datum.value === 4000 ? 'Hz' : (datum.value % 1000 === 0 ? datum.label : '')",
      "labelFont": "Liberation Sans", "labelFontWeight": "bold", "labelFontSize": 17, "labelColor": "black",
      "labelPadding": 4, "labelFlush": false, "labelOverlap": false,
      "tickSize": 5, "tickColor": "black", "tickWidth": 1.5,
      "domainColor": "black", "domainWidth": 2.5,
      "grid": false,
      "title": "Frequency\u2003\u2003\u2002\u2014\u2014\u25ba",
      "titleFont": "Liberation Serif", "titleFontSize": 19, "titleFontWeight": "bold", "titleColor": "black",
      "titleX": 487, "titleY": 47, "titleAlign": "center", "titleBaseline": "middle"
    }}
}
}
],
"resolve": {"scale": {"x": "independent"}, "axis": {"x": "independent"}}
}
